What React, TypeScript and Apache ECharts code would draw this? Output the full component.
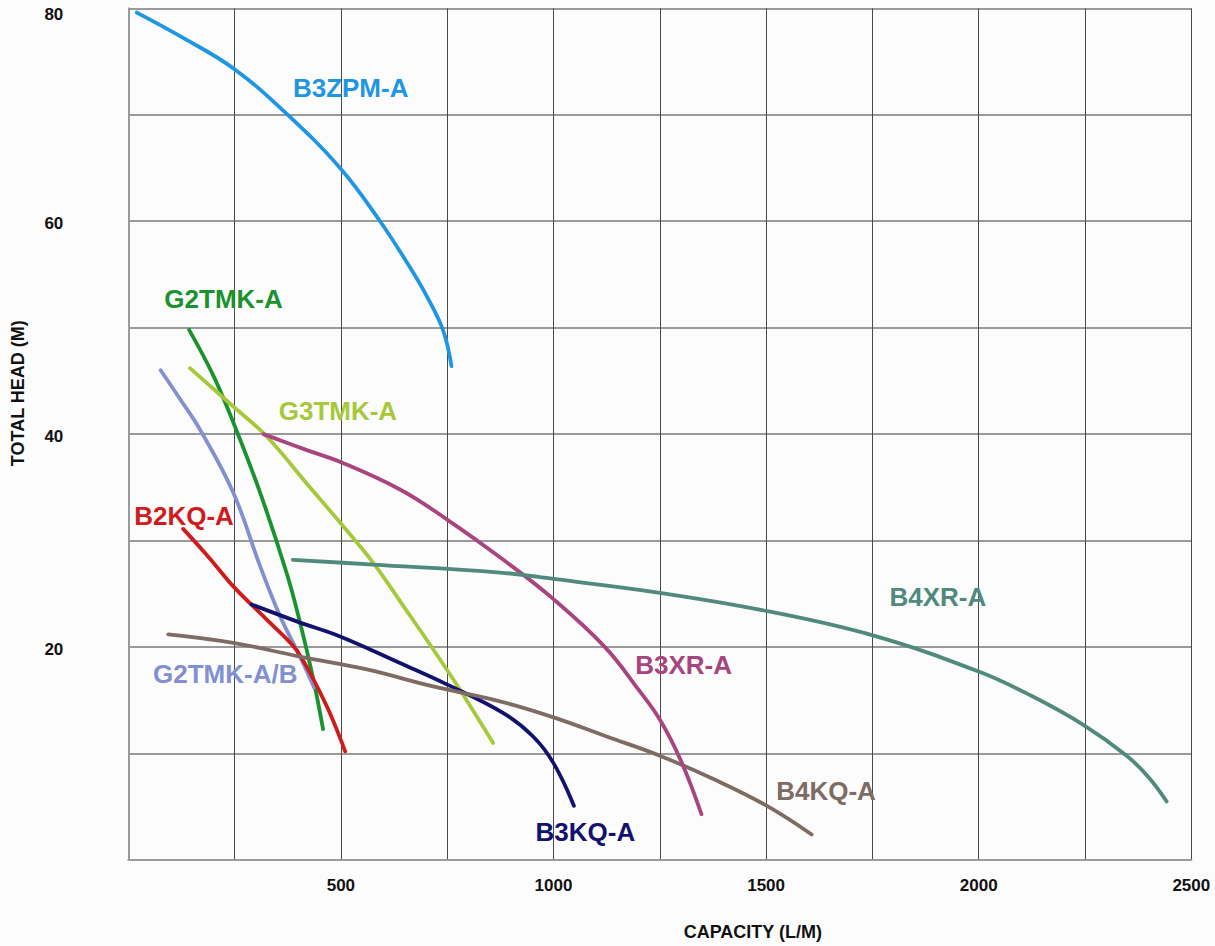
import React, { useEffect, useRef } from "react";
import * as echarts from "echarts";

// Pump curves: [capacity L/M, total head M]
const b3zpmA = [[20, 79.6], [130, 77.2], [249, 74.3], [372, 70.1], [498, 65], [592, 60], [662, 55.7], [700, 53.1], [740, 49.8], [760, 46.4]];
const g2tmkA = [[143, 49.8], [200, 45.5], [251, 40.7], [310, 34.5], [372, 27], [404, 22.3], [435, 17], [458, 12.3]];
const g2tmkAB = [[76, 46], [120, 43.4], [169, 40.4], [247, 34.5], [310, 27.6], [357, 22.9], [404, 19.1], [437, 16.2]];
const g3tmkA = [[145, 46.2], [247, 42.6], [325, 39.8], [420, 35.35], [498, 31.7], [576, 27.9], [647, 23.85], [717, 19.8], [780, 16], [858, 11]];
const b2kqA = [[129, 31.1], [190, 28.4], [247, 25.7], [325, 22.6], [388, 20.1], [413, 18.6], [435, 17], [474, 13.8], [510, 10.2]];
const b3kqA = [[290, 24], [404, 22.3], [498, 21], [639, 18.5], [749, 16.5], [882, 13.8], [952, 11.6], [1000, 9.1], [1048, 5.1]];
const b4kqA = [[94, 21.2], [247, 20.4], [404, 19.1], [561, 17.9], [717, 16.3], [874, 14.9], [1000, 13.4], [1125, 11.6], [1250, 9.8], [1376, 7.6], [1501, 5.1], [1607, 2.4]];
const b3xrA = [[318, 40], [420, 38.5], [498, 37.4], [639, 34.8], [749, 32], [882, 28.2], [1000, 24.5], [1121, 20], [1200, 16], [1250, 13.2], [1300, 9.3], [1348, 4.3]];
const b4xrA = [[387, 28.2], [576, 27.75], [874, 27], [1000, 26.4], [1250, 25.1], [1500, 23.4], [1751, 21.1], [2000, 17.7], [2125, 15.4], [2246, 12.7], [2348, 9.8], [2400, 7.75], [2442, 5.5]];

const seriesNames = ["B3ZPM-A", "G2TMK-A", "G2TMK-A/B", "G3TMK-A", "B2KQ-A", "B3KQ-A", "B4KQ-A", "B3XR-A", "B4XR-A"];
const seriesData = [b3zpmA, g2tmkA, g2tmkAB, g3tmkA, b2kqA, b3kqA, b4kqA, b3xrA, b4xrA];
const seriesColors = ["#1e96e4", "#1a922e", "#8290d0", "#a8c83c", "#cf1b1b", "#12126e", "#7d6b64", "#a8457e", "#4f8a7c"];
// label anchor (centre of text) in data coordinates
const labelAnchors = [[523, 72.5], [224, 52.7], [228, 17.5], [493, 42.2], [131, 32.35], [1075, 2.6], [1641, 6.45], [1306, 18.3], [1904, 24.75]];

const xTicks = [500, 1000, 1500, 2000, 2500];
const yTicks = [20, 40, 60, 80];

const FONT = "'Liberation Sans', Arial, Helvetica, sans-serif";

export default function App() {
  const ref = useRef<HTMLDivElement>(null);
  useEffect(() => {
    if (!ref.current) return;
    const chart = echarts.init(ref.current, undefined, { renderer: "svg" });
    const tickFont = { fontFamily: FONT, fontWeight: "bold", fontSize: 17, color: "#111" };
    chart.setOption({
      animation: false,
      backgroundColor: "#fcfcfc",
      grid: { left: 128.3, top: 8.3, right: 23.7, bottom: 85.3, containLabel: false },
      xAxis: {
        type: "value",
        min: 0,
        max: 2500,
        interval: 250,
        name: "CAPACITY (L/M)",
        nameLocation: "middle",
        nameGap: 63,
        nameTextStyle: { fontFamily: FONT, fontWeight: "bold", fontSize: 18, color: "#111", padding: [0, 0, 0, 186] },
        axisLine: { show: true, lineStyle: { color: "#9a9a9a", width: 2 } },
        axisTick: { show: false },
        splitLine: { show: true, lineStyle: { color: "#4a4a4a", width: 1 } },
        axisLabel: {
          margin: 17,
          ...tickFont,
          formatter: (v: number) => (xTicks.indexOf(v) >= 0 ? String(v) : ""),
        },
      },
      yAxis: {
        type: "value",
        min: 0,
        max: 80,
        interval: 10,
        name: "TOTAL HEAD (M)",
        nameLocation: "middle",
        nameGap: 101,
        nameTextStyle: { fontFamily: FONT, fontWeight: "bold", fontSize: 18, color: "#111", padding: [0, 0, 0, 82] },
        axisLine: { show: true, lineStyle: { color: "#9a9a9a", width: 2 } },
        axisTick: { show: false },
        splitLine: { show: true, lineStyle: { color: "#7a7a7a", width: 1.5 } },
        axisLabel: {
          margin: 65,
          ...tickFont,
          formatter: (v: number) => {
            if (yTicks.indexOf(v) < 0) return "";
            return v === 80 ? "{top|" + v + "}" : "{n|" + v + "}";
          },
          rich: {
            top: { ...tickFont, padding: [12, 0, 0, 0] },
            n: { ...tickFont, padding: [4, 0, 0, 0] },
          },
        },
      },
      series: seriesNames.map((name, i) => ({
        name,
        type: "line",
        data: seriesData[i],
        smooth: 0.4,
        showSymbol: false,
        symbol: "none",
        lineStyle: { color: seriesColors[i], width: 3.8, cap: "round" },
        itemStyle: { color: seriesColors[i] },
        markPoint: {
          symbol: "circle",
          symbolSize: 1,
          itemStyle: { color: "rgba(0,0,0,0)" },
          label: {
            show: true,
            position: "inside",
            formatter: name,
            color: seriesColors[i],
            fontFamily: FONT,
            fontWeight: "bold",
            fontSize: 26,
          },
          data: [{ coord: labelAnchors[i] }],
        },
      })),
    });
    return () => chart.dispose();
  }, []);
  return <div ref={ref} style={{ position: "absolute", left: 0, top: 0, width: 1215, height: 946 }} />;
}
